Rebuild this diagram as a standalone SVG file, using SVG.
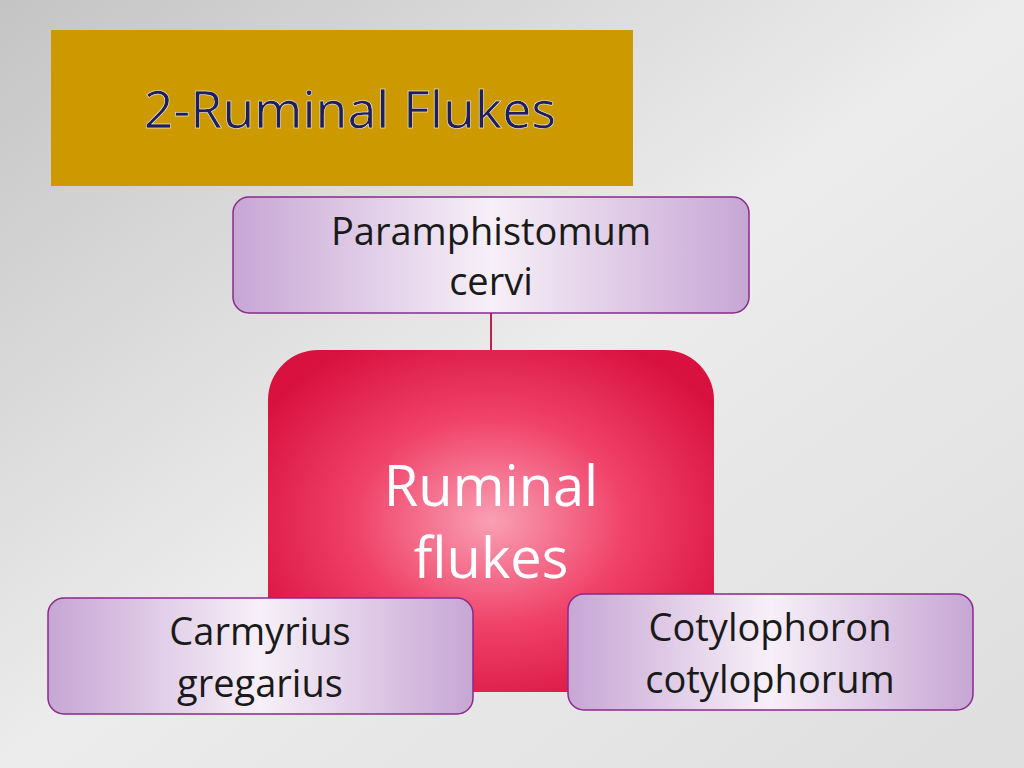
<svg xmlns="http://www.w3.org/2000/svg" width="1024" height="768" viewBox="0 0 1024 768">
<defs>
<linearGradient id="bg" x1="0" y1="0" x2="1" y2="1"><stop offset="0" stop-color="#c4c4c4"/><stop offset="0.5" stop-color="#ececec"/><stop offset="1" stop-color="#dedede"/></linearGradient>
<radialGradient id="red" cx="0.5" cy="0.5" r="0.6"><stop offset="0" stop-color="#f9a0b4"/><stop offset="0.5" stop-color="#f0436a"/><stop offset="1" stop-color="#d8113e"/></radialGradient>
<linearGradient id="pur" x1="0" y1="0" x2="1" y2="0"><stop offset="0" stop-color="#c7a6d4"/><stop offset="0.5" stop-color="#f7f0f8"/><stop offset="1" stop-color="#c7a6d4"/></linearGradient>
<style>.box{fill:url(#pur);stroke:#8a2a8a;stroke-width:1.5}.t{font-family:'Open Sans','Liberation Sans',sans-serif;text-anchor:middle;fill:#1a1a1a}</style>
</defs>
<rect width="1024" height="768" fill="url(#bg)"/>
<rect x="51" y="30" width="582" height="156" fill="#cc9900"/>
<text x="350" y="128" font-family="'Open Sans','Liberation Sans',sans-serif" font-size="52" fill="#1f1f5a" text-anchor="middle" stroke="#fff" stroke-width="0.5">2-Ruminal Flukes</text>
<g id="connectors"><line x1="491" y1="313" x2="491" y2="350" stroke="#c02050" stroke-width="2"/></g>
<g id="center"><rect x="268" y="350" width="446" height="342" rx="50" fill="url(#red)"/>
<text class="t" x="491" y="506" font-size="56" style="fill:#fff">Ruminal</text><text class="t" x="491" y="578" font-size="56" style="fill:#fff">flukes</text></g>
<g id="n1"><rect class="box" x="233" y="197" width="516" height="116" rx="16"/><text class="t" x="491" y="245" font-size="38">Paramphistomum</text><text class="t" x="491" y="295" font-size="38">cervi</text></g>
<g id="n2"><rect class="box" x="48" y="598" width="425" height="116" rx="16"/><text class="t" x="260" y="645" font-size="38">Carmyrius</text><text class="t" x="260" y="697" font-size="38">gregarius</text></g>
<g id="n3"><rect class="box" x="568" y="594" width="405" height="116" rx="16"/><text class="t" x="770" y="641" font-size="38">Cotylophoron</text><text class="t" x="770" y="693" font-size="38">cotylophorum</text></g>
</svg>
